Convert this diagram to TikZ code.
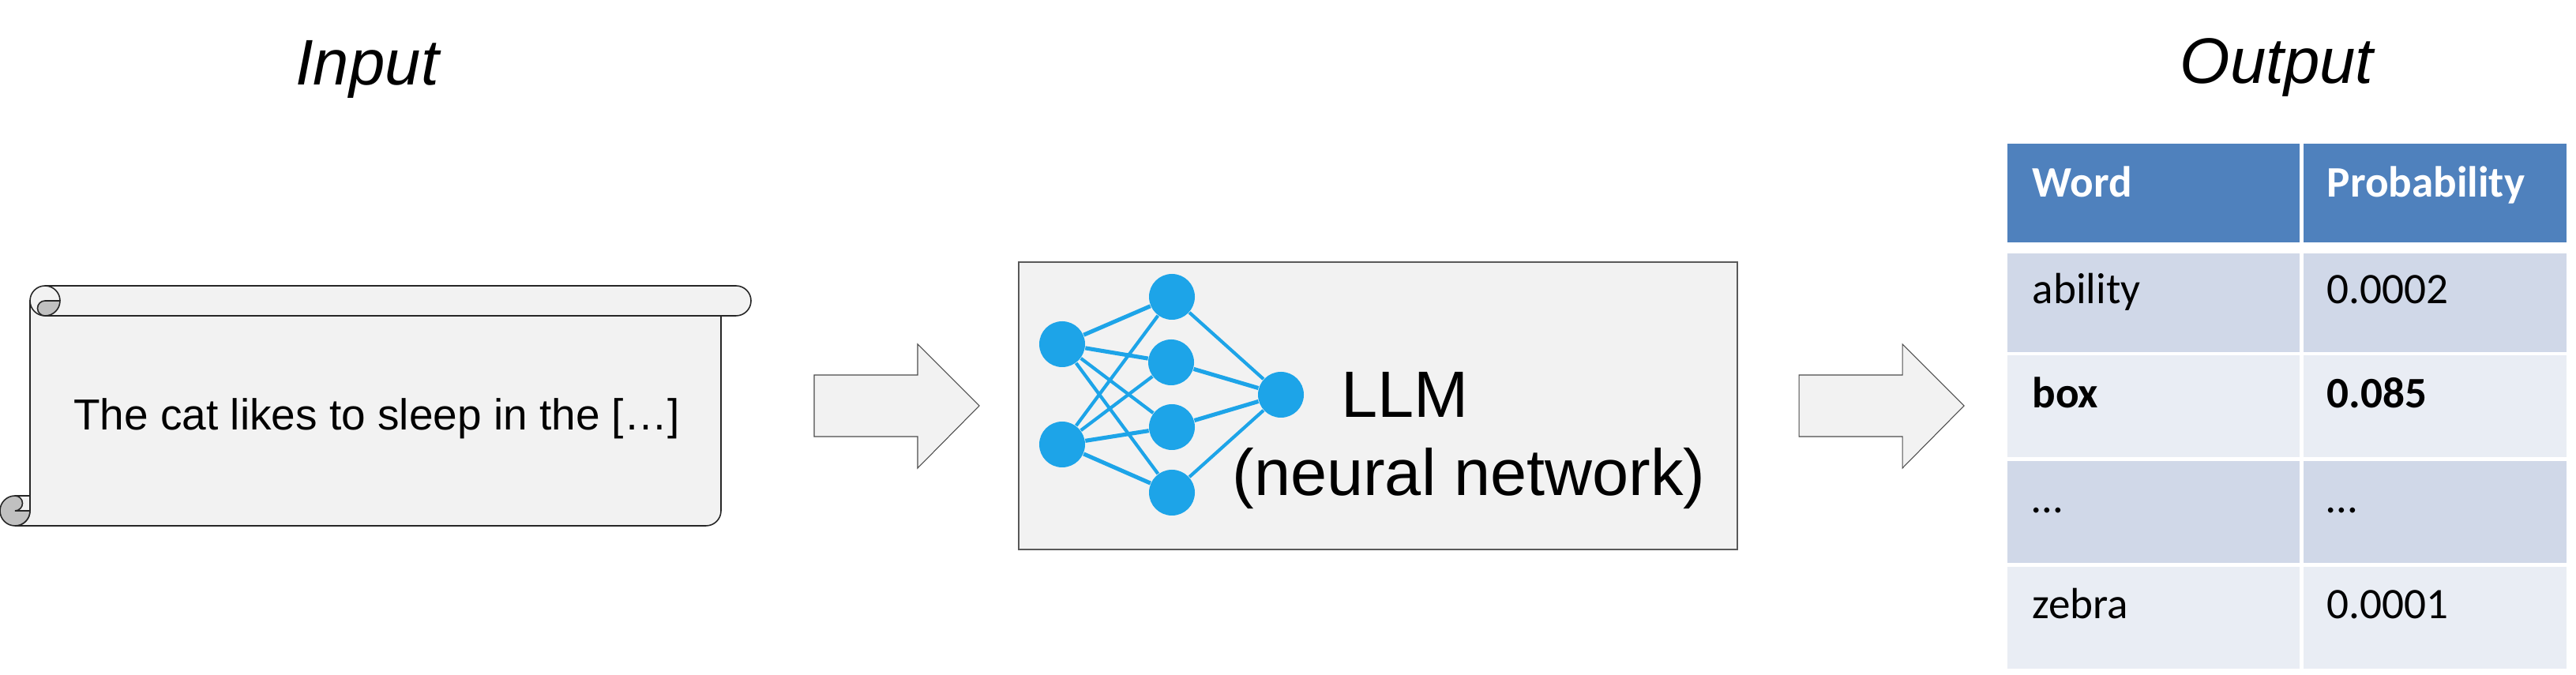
\documentclass[tikz,border=0pt]{standalone}
\usepackage{fontspec}
\setmainfont{Liberation Sans}
\newfontfamily\cellfont{Carlito}
\definecolor{paper}{HTML}{F2F2F2}
\definecolor{curl}{HTML}{C0C0C0}
\definecolor{neuron}{HTML}{1DA4E8}
\definecolor{headblue}{HTML}{4F81BD}
\definecolor{rowdark}{HTML}{D0D8E8}
\definecolor{rowlight}{HTML}{E9EDF4}
\tikzset{
  outline/.style={draw=black!85,line width=0.45pt},
  blockarrow/.style={draw=black!70,line width=0.3pt,fill=paper},
  title/.style={inner sep=0pt,anchor=base,font=\fontsize{23.2}{28}\selectfont\itshape},
  bigtext/.style={inner sep=0pt,anchor=base,font=\fontsize{23.6}{28}\selectfont},
  celltext/.style={inner sep=0pt,anchor=base west,font=\cellfont\fontsize{15.7}{19}\selectfont},
  boldcell/.style={celltext,font=\cellfont\bfseries\fontsize{15.7}{19}\selectfont},
  neuronnode/.style={circle,fill=neuron,minimum size=0.58cm,inner sep=0pt},
  synapse/.style={draw=neuron,line width=1.2pt},
  thicksynapse/.style={draw=neuron,line width=1.45pt}
}
\begin{document}
\begin{tikzpicture}
        \useasboundingbox (0,0) rectangle (32.62,8.55);
        % scroll
        \fill[paper] (0.19,2.27) rectangle (0.38,2.08);
        \draw[outline,fill=paper] (0.38,4.74) -- (0.38,2.08) arc[start angle=0,end angle=-90,radius=0.19] -- (8.94,1.89) arc[start angle=-90,end angle=0,radius=0.19] -- (9.13,4.74) -- cycle;
        \draw[outline,fill=paper] (0.57,4.93) -- (9.32,4.93) arc[start angle=90,end angle=-90,radius=0.19] -- (0.57,4.55) arc[start angle=270,end angle=180,radius=0.19] arc[start angle=180,end angle=90,radius=0.19] -- cycle;
        \draw[outline,fill=curl] (0.57,4.74) -- (0.76,4.74) arc[start angle=0,end angle=-90,radius=0.19] arc[start angle=-90,end angle=-270,radius=0.095] -- cycle;
        \draw[outline] (0.76,4.74) arc[start angle=0,end angle=90,radius=0.19];
        \draw[outline,fill=curl] (0.19,2.27) arc[start angle=90,end angle=270,radius=0.19] arc[start angle=-90,end angle=0,radius=0.19] -- (0.19,2.08) arc[start angle=-90,end angle=90,radius=0.095] -- cycle;
        \draw[outline] (0.19,2.27) -- (0.38,2.27);
        \node[inner sep=0pt,anchor=base,font=\fontsize{15.65}{19}\selectfont] (prompt) at (4.77,3.10) {The cat likes to sleep in the […]};

        % arrows
        \foreach \x in {10.31,22.78}{
        \draw[blockarrow] (\x,3.80) -- (\x+1.31,3.80) -- (\x+1.31,4.19) -- (\x+2.09,3.41) -- (\x+1.31,2.62) -- (\x+1.31,3.02) -- (\x,3.02) -- cycle;
        }

        % llm box
        \draw[draw=black!65,line width=0.5pt,fill=paper] (12.90,1.59) rectangle (22.00,5.23);
        \foreach \name/\x/\y in {inA/13.45/4.19,inB/13.45/2.92,midA/14.84/4.79,midB/14.83/3.96,midC/14.84/3.14,midD/14.84/2.31,outA/16.22/3.55}{
        \node[neuronnode] (\name) at (\x,\y) {};
        }
        \foreach \a/\b in {inA/midC,inA/midD,inB/midA,inB/midB,midA/outA,midD/outA}{
        \draw[synapse] (\a) -- (\b);
        }
        \foreach \a/\b in {inA/midA,inA/midB,inB/midC,inB/midD,midB/outA,midC/outA}{
        \draw[thicksynapse] (\a) -- (\b);
        }
        \node[bigtext] (llm) at (17.79,3.26) {LLM};
        \node[bigtext] (nn) at (18.60,2.27) {(neural network)};

        % titles
        \node[title] (input) at (4.65,7.47) {Input};
        \node[title] (output) at (28.83,7.49) {Output};

        % table
        \foreach \xa/\xb in {25.42/29.12,29.165/32.50}{
        \fill[headblue] (\xa,6.73) rectangle (\xb,5.48);
        \fill[rowdark] (\xa,5.34) rectangle (\xb,4.09);
        \fill[rowlight] (\xa,4.05) rectangle (\xb,2.76);
        \fill[rowdark] (\xa,2.71) rectangle (\xb,1.42);
        \fill[rowlight] (\xa,1.37) rectangle (\xb,0.08);
        }
        \node[boldcell,text=white] (wordhead) at (25.73,6.05) {Word};
        \node[boldcell,text=white] (probhead) at (29.46,6.05) {Probability};
        \foreach \name/\y/\word/\prob in {ability/4.70/ability/0.0002,gap/2.05/…/…,zebra/0.71/zebra/0.0001}{
        \node[celltext] (\name word) at (25.73,\y) {\word};
        \node[celltext] (\name prob) at (29.46,\y) {\prob};
        }
        \node[boldcell] (boxword) at (25.73,3.38) {box};
        \node[boldcell] (boxprob) at (29.46,3.38) {0.085};
\end{tikzpicture}
\end{document}
